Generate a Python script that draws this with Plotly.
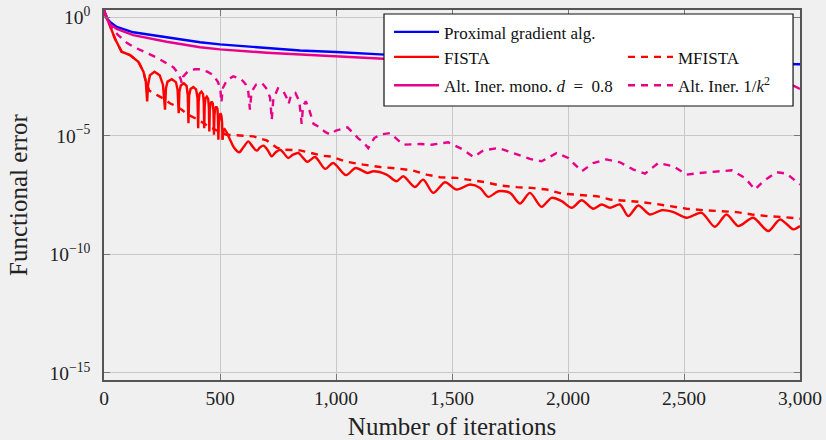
import numpy as np
import plotly.graph_objects as go

# ---- data: (iteration, log10 of functional error) ----
prox_grad = [(0, 0.28), (5, 0.1), (12, -0.05), (26, -0.2), (55, -0.41), (126, -0.64),
             (270, -0.85), (414, -1.06), (500, -1.15), (701, -1.29), (845, -1.41),
             (1000, -1.47), (1190, -1.57), (1500, -1.7), (2000, -1.82), (2500, -1.92),
             (3000, -1.99)]

alt_mono = [(0, 0.28), (8, 0.0), (26, -0.3), (55, -0.5), (126, -0.76), (270, -1.04),
            (414, -1.27), (500, -1.36), (701, -1.5), (845, -1.57), (1000, -1.65),
            (1190, -1.74), (1500, -1.9), (2000, -2.1), (2500, -2.4), (2800, -2.65),
            (2974, -2.9), (3000, -3.03)]

fista_head = [(0, 0.28), (26, -0.34), (47, -0.9), (76, -1.46), (112, -1.6), (148, -1.88),
              (170, -2.3), (180, -2.7), (186, -3.55),
              (190, -2.85), (198, -2.45), (218, -2.3), (240, -2.45), (254, -2.85), (263, -3.9),
              (267, -3.0), (274, -2.72), (292, -2.62), (310, -2.74), (317, -3.05), (322, -4.05),
              (325, -3.15), (331, -2.88), (344, -2.79), (356, -2.9), (361, -3.3), (364, -4.47),
              (367, -3.3), (373, -3.03), (385, -2.95), (397, -3.05), (403, -3.4), (406, -4.68),
              (408, -3.55), (412, -3.22), (420, -3.14), (427, -3.25), (430, -3.6), (432, -4.68),
              (434, -3.75), (437, -3.43), (443, -3.35), (449, -3.45), (452, -3.8), (454, -4.82),
              (456, -3.95), (459, -3.64), (464, -3.56), (469, -3.65), (472, -4.0), (474, -4.96),
              (476, -4.15), (479, -3.85), (484, -3.77), (489, -3.87), (491, -4.2), (493, -5.17),
              (495, -4.4), (498, -4.12), (502, -4.05), (506, -4.15), (509, -4.45), (511, -5.17)]

fista_tail = [(511, -5.17), (518, -4.7), (528, -4.85), (545, -5.2), (560, -5.5), (583, -5.7),
              (600, -5.5), (622, -5.24), (640, -5.45), (658, -5.63), (672, -5.5), (687, -5.42),
              (705, -5.6), (723, -5.87), (740, -5.7), (759, -5.59), (776, -5.75), (794, -5.94),
              (815, -5.8), (838, -5.73), (855, -5.9), (876, -6.1), (910, -5.9), (953, -6.4),
              (988, -6.15), (1043, -6.66), (1085, -6.36), (1135, -6.57), (1161, -6.5),
              (1218, -6.64), (1261, -6.92), (1290, -6.71), (1340, -7.16), (1376, -6.85),
              (1419, -7.41), (1470, -6.96), (1520, -7.27), (1578, -7.06), (1621, -7.2),
              (1656, -7.58), (1700, -7.34), (1750, -7.41), (1793, -7.86), (1836, -7.41),
              (1886, -8.0), (1929, -7.62), (1973, -7.76), (2016, -8.04), (2059, -7.72),
              (2109, -8.08), (2145, -7.9), (2181, -8.04), (2224, -7.9), (2260, -8.39),
              (2303, -7.94), (2353, -8.32), (2404, -8.14), (2454, -8.22), (2511, -8.46),
              (2576, -8.25), (2633, -8.84), (2683, -8.32), (2734, -8.81), (2798, -8.46),
              (2863, -9.02), (2914, -8.53), (2971, -8.95), (3000, -8.81)]

mfista = [(0, 0.28), (26, -0.34), (47, -0.9), (76, -1.46), (112, -1.6), (148, -1.88),
          (170, -2.3), (180, -2.7), (195, -3.1), (227, -3.28), (260, -3.45), (284, -3.63),
          (310, -3.75), (335, -3.91), (364, -4.12), (400, -4.3), (450, -4.6), (500, -4.85),
          (528, -4.96), (586, -4.99), (644, -5.03), (701, -5.2), (744, -5.5), (780, -5.59),
          (845, -5.62), (902, -5.75), (945, -5.85), (981, -5.88), (1046, -6.1), (1118, -6.22),
          (1190, -6.32), (1261, -6.38), (1333, -6.47), (1390, -6.64), (1448, -6.75),
          (1520, -6.78), (1592, -6.89), (1649, -6.97), (1707, -7.1), (1779, -7.17),
          (1843, -7.2), (1908, -7.27), (1973, -7.44), (2052, -7.49), (2124, -7.55),
          (2181, -7.69), (2238, -7.73), (2310, -7.79), (2382, -7.88), (2454, -8.0),
          (2511, -8.08), (2583, -8.14), (2655, -8.18), (2727, -8.22), (2792, -8.32),
          (2857, -8.39), (2928, -8.43), (3000, -8.5)]

alt_k2 = [(0, 0.28), (15, -0.1), (30, -0.4), (60, -0.75), (98, -1.08), (126, -1.25),
          (184, -1.53), (230, -1.72), (270, -1.95), (300, -2.12), (318, -2.35), (330, -2.6),
          (335, -2.78), (342, -2.5), (360, -2.3), (390, -2.2), (415, -2.2), (445, -2.3),
          (471, -2.44), (492, -2.75), (502, -3.1), (506, -3.6), (512, -3.0), (530, -2.65),
          (557, -2.5), (590, -2.6), (610, -2.82), (622, -3.15), (629, -3.9), (636, -3.15),
          (655, -2.85), (682, -2.79), (703, -3.05), (716, -3.4), (723, -4.33), (730, -3.45),
          (750, -3.0), (772, -3.1), (790, -3.45), (796, -3.65), (806, -3.3), (825, -3.2),
          (842, -3.55), (852, -4.5), (858, -3.75), (870, -3.55), (886, -3.95), (903, -4.5),
          (925, -4.62), (953, -4.84), (975, -4.95), (1000, -4.78), (1050, -4.65),
          (1095, -5.1), (1125, -5.35), (1139, -5.52), (1165, -5.1), (1190, -4.95),
          (1233, -4.89), (1290, -5.38), (1362, -5.35), (1412, -5.38), (1484, -5.28),
          (1549, -5.59), (1592, -5.9), (1635, -5.62), (1700, -5.52), (1779, -5.8),
          (1836, -5.98), (1886, -6.08), (1951, -5.73), (2001, -5.94), (2059, -6.5),
          (2109, -6.15), (2166, -6.0), (2224, -6.12), (2282, -6.43), (2332, -6.6),
          (2389, -6.15), (2454, -6.29), (2511, -6.64), (2569, -6.57), (2641, -6.5),
          (2705, -6.46), (2763, -6.78), (2806, -7.27), (2842, -6.92), (2899, -6.54),
          (2942, -6.6), (3000, -7.06)]

x_ticks = [0, 500, 1000, 1500, 2000, 2500, 3000]
y_ticks = [1e0, 1e-5, 1e-10, 1e-15]
y_ticktext = ["10<sup>0</sup>", "10<sup>\u22125</sup>", "10<sup>\u221210</sup>", "10<sup>\u221215</sup>"]


def xy(series):
    a = np.array(series, dtype=float)
    return a[:, 0], 10.0 ** a[:, 1]


BLUE = "#0000ff"
RED = "#ff0000"
PINK = "#e8008a"
FONT = "Liberation Serif"
LW = 2.4
DASH = "7px,6px"

fig = go.Figure()

x, y = xy(prox_grad)
fig.add_trace(go.Scatter(x=x, y=y, mode="lines", name="Proximal gradient alg.",
                         line=dict(color=BLUE, width=LW), legend="legend"))
x, y = xy(fista_head)
fig.add_trace(go.Scatter(x=x, y=y, mode="lines", name="FISTA", legendgroup="fista",
                         line=dict(color=RED, width=LW), legend="legend2"))
x, y = xy(fista_tail)
fig.add_trace(go.Scatter(x=x, y=y, mode="lines", name="FISTA", legendgroup="fista",
                         showlegend=False,
                         line=dict(color=RED, width=LW, shape="spline", smoothing=0.8),
                         legend="legend2"))
x, y = xy(mfista)
fig.add_trace(go.Scatter(x=x, y=y, mode="lines", name="MFISTA",
                         line=dict(color=RED, width=LW, dash=DASH), legend="legend4"))
x, y = xy(alt_mono)
fig.add_trace(go.Scatter(x=x, y=y, mode="lines",
                         name="Alt. Iner. mono. <i>d</i>\u2002=\u20020.8",
                         line=dict(color=PINK, width=LW), legend="legend3"))
x, y = xy(alt_k2)
fig.add_trace(go.Scatter(x=x, y=y, mode="lines", name="Alt. Iner. 1/<i>k</i><sup>2</sup>",
                         line=dict(color=PINK, width=LW, dash=DASH), legend="legend5"))

leg_common = dict(bgcolor="rgba(0,0,0,0)", borderwidth=0, xanchor="left", yanchor="middle",
                  font=dict(family=FONT, size=17, color="#111"), itemwidth=45,
                  tracegroupgap=0)
col1, col2 = 0.4095, 0.7457
row1, row2, row3 = 0.9397, 0.8721, 0.7954

fig.update_layout(
    width=826, height=440,
    margin=dict(l=104, r=26, t=10, b=60),
    paper_bgcolor="#f0f0f0", plot_bgcolor="#f0f0f0",
    font=dict(family=FONT, size=19, color="#222"),
    showlegend=True,
    legend=dict(x=col1, y=row1, **leg_common),
    legend2=dict(x=col1, y=row2, **leg_common),
    legend3=dict(x=col1, y=row3, **leg_common),
    legend4=dict(x=col2, y=row2, **leg_common),
    legend5=dict(x=col2, y=row3, **leg_common),
    shapes=[dict(type="rect", xref="paper", yref="paper", x0=0.4023, x1=0.99,
                 y0=0.7405, y1=0.9892, fillcolor="white",
                 line=dict(color="#111", width=1.2), layer="above")],
)

fig.update_xaxes(range=[0, 3000], tickvals=x_ticks, tickformat=",d",
                 showgrid=True, gridcolor="#c8c8c8", gridwidth=1, zeroline=False,
                 showline=True, linecolor="#555", linewidth=1.5, mirror="ticks",
                 ticks="inside", ticklen=6, tickwidth=1.3, tickcolor="#777",
                 tickfont=dict(family=FONT, size=19.5, color="#222"),
                 title=dict(text="Number of iterations", standoff=19,
                            font=dict(family=FONT, size=25, color="#222")),
                 automargin=False)
fig.update_yaxes(type="log", range=[-15.3, 0.3], tickvals=y_ticks, ticktext=y_ticktext,
                 showgrid=True, gridcolor="#c8c8c8", gridwidth=1, zeroline=False,
                 showline=True, linecolor="#555", linewidth=1.5, mirror="ticks",
                 ticks="inside", ticklen=6, tickwidth=1.3, tickcolor="#777",
                 ticklabelstandoff=8,
                 tickfont=dict(family=FONT, size=19.5, color="#222"),
                 title=dict(text="Functional error", standoff=15,
                            font=dict(family=FONT, size=25, color="#222")),
                 automargin=False)

fig.write_html("out.html")
